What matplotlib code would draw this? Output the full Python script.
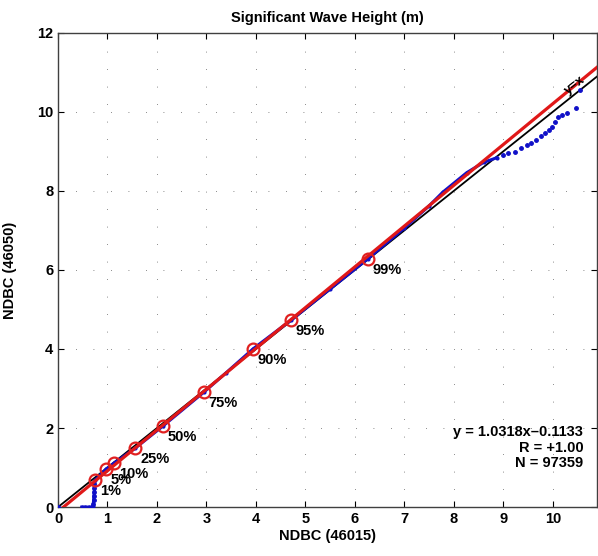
import matplotlib
matplotlib.use('Agg')
import matplotlib.pyplot as plt

# quantile-quantile points (NDBC 46015 vs NDBC 46050)
qq_x_body = [0.48, 0.55, 0.62, 0.68, 0.71, 0.75, 0.97, 1.13, 1.56,
             2.12, 2.95, 3.40, 3.94, 4.71, 5.50, 6.26, 7.00, 7.50, 7.78, 8.26, 8.60, 8.87]
qq_y_body = [0.0, 0.0, 0.0, 0.0, 0.02, 0.68, 0.96, 1.11, 1.49,
             2.05, 2.91, 3.40, 4.00, 4.73, 5.52, 6.28, 7.06, 7.62, 7.97, 8.46, 8.72, 8.84]
qq_x_tail = [0.0, 0.71, 0.72, 0.72, 0.72, 0.73, 0.73,
             9.00, 9.10, 9.23, 9.35, 9.47, 9.57, 9.67, 9.76, 9.84, 9.92, 9.98, 10.05,
             10.10, 10.18, 10.28, 10.46, 10.55]
qq_y_tail = [0.0, 0.08, 0.18, 0.28, 0.38, 0.48, 0.58,
             8.90, 8.95, 8.99, 9.08, 9.16, 9.22, 9.29, 9.38, 9.47, 9.55, 9.62, 9.75,
             9.87, 9.93, 9.97, 10.10, 10.56]

# percentile markers
pct_labels = ['1%', '5%', '10%', '25%', '50%', '75%', '90%', '95%', '99%']
pct_x = [0.75, 0.97, 1.13, 1.56, 2.12, 2.95, 3.94, 4.71, 6.26]
pct_y = [0.68, 0.96, 1.11, 1.49, 2.05, 2.91, 4.00, 4.73, 6.28]

# regression fit
slope = 1.0318
intercept = -0.1133
r_value = 1.00
n_obs = 97359

x_ticks = [0, 1, 2, 3, 4, 5, 6, 7, 8, 9, 10]
y_ticks = [0, 2, 4, 6, 8, 10, 12]
x_max = 10.89
y_max = 12

plt.rcParams['font.family'] = ['Liberation Sans', 'DejaVu Sans']
plt.rcParams['font.weight'] = 'bold'

fig = plt.figure(figsize=(5.98, 5.56), dpi=100)
ax = fig.add_axes([0.097, 0.088, 0.901, 0.853])

ax.grid(True, linestyle=(0, (1, 20)), color='0.4', linewidth=0.6, zorder=0)

# 1:1 line
ax.plot([0, x_max], [0, x_max], color='k', linewidth=1.3, zorder=2)
# blue quantiles
ax.plot(qq_x_body, qq_y_body, color='#1010c8', linestyle='-', linewidth=2.2,
        marker='.', markersize=4, zorder=3)
ax.plot(qq_x_tail, qq_y_tail, color='#1010c8', linestyle='none',
        marker='.', markersize=5, zorder=3)
# fit line
x0 = -intercept / slope
ax.plot([x0, x_max], [slope * x0 + intercept, slope * x_max + intercept],
        color='#e01818', linewidth=2.3, zorder=4)

ax.plot(pct_x, pct_y, linestyle='none', marker='o', markersize=8.5,
        markerfacecolor='none', markeredgecolor='#e02020', markeredgewidth=1.6, zorder=5)
for lab, px, py in zip(pct_labels, pct_x, pct_y):
    ax.annotate(lab, (px, py), xytext=(3.5, -8), textcoords='offset points',
                ha='left', va='center', fontsize=10.5, fontweight='bold', zorder=6)

ax.text(10.45, 10.68, 'y=x', rotation=38, ha='center', va='center',
        fontsize=9.5, zorder=6)

ax.text(0.975, 0.125, 'y = %.4fx\u2013%.4f\nR = +%.2f\nN = %d' % (slope, -intercept, r_value, n_obs),
        transform=ax.transAxes, ha='right', va='center', fontsize=10.5,
        fontweight='bold', linespacing=1.15)

ax.set_xlim(0, x_max)
ax.set_ylim(0, y_max)
ax.set_xticks(x_ticks)
ax.set_yticks(y_ticks)
ax.tick_params(direction='in', top=True, right=True, length=4, labelsize=10.5, width=0.8)
for lbl in ax.get_xticklabels() + ax.get_yticklabels():
    lbl.set_fontweight('bold')
for sp in ax.spines.values():
    sp.set_linewidth(1.0)
    sp.set_color('0.25')

ax.set_title('Significant Wave Height (m)', fontsize=10.5, fontweight='bold', pad=8)
ax.set_xlabel('NDBC (46015)', fontsize=10.5, fontweight='bold', labelpad=2)
ax.set_ylabel('NDBC (46050)', fontsize=10.5, fontweight='bold', labelpad=14)

fig.savefig('out.png', dpi=100)
